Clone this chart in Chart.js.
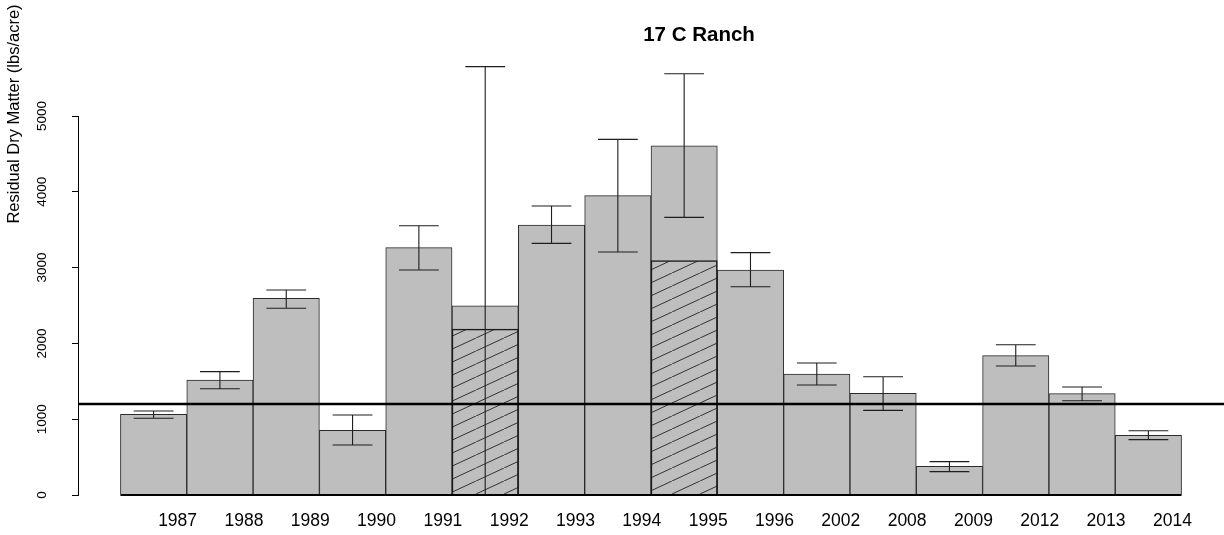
<!DOCTYPE html>
<html>
<head>
<meta charset="utf-8">
<script src="https://cdn.jsdelivr.net/npm/chart.js@4.4.1/dist/chart.umd.min.js"></script>
<style>
  body { margin: 0; background: #fff; }
  #wrap { width: 1224px; height: 535px; position: relative; }
</style>
</head>
<body>
<div id="wrap"><canvas id="rdm"></canvas></div>
<script>
const years = ['1987', '1988', '1989', '1990', '1991', '1992', '1993', '1994',
               '1995', '1996', '2002', '2008', '2009', '2012', '2013', '2014'];
const rdmMean = [1065, 1517, 2595, 853, 3263, 2497, 3562, 3949,
                 4608, 2968, 1596, 1341, 379, 1838, 1337, 788];
const rdmLow  = [1012, 1402, 2463, 660, 2968, 0, 3320, 3206,
                 3663, 2748, 1451, 1117, 308, 1702, 1244, 730];
const rdmHigh = [1108, 1627, 2704, 1055, 3553, 5651, 3813, 4692,
                 5558, 3197, 1741, 1561, 440, 1983, 1425, 848];
// hatched part of the bar (only some years)
const hatched = [null, null, null, null, null, 2190, null, null,
                 3091, null, null, null, null, null, null, null];
const refLevel = 1200;
const yTicks = [0, 1000, 2000, 3000, 4000, 5000];

Chart.defaults.font.family = "'Liberation Sans', Arial, sans-serif";
Chart.defaults.color = '#000';

function hatchPattern() {
  const c = document.createElement('canvas');
  c.width = 28; c.height = 13;
  const g = c.getContext('2d');
  g.strokeStyle = '#1a1a1a';
  g.lineWidth = 0.85;
  g.beginPath();
  [-28, 0, 28].forEach(dx => { g.moveTo(dx, 13); g.lineTo(dx + 28, 0); });
  g.stroke();
  return g.createPattern(c, 'repeat');
}

// error bars, reference line, base line and titles
const extras = {
  id: 'extras',
  afterDatasetsDraw(chart) {
    const {ctx, chartArea, scales: {x, y}} = chart;
    const barW = x.getPixelForValue(1) - x.getPixelForValue(0);
    ctx.save();
    ctx.strokeStyle = '#1e1e1e';
    ctx.lineWidth = 1.1;
    rdmMean.forEach((v, i) => {
      const px = x.getPixelForValue(i);
      const lo = y.getPixelForValue(rdmLow[i]);
      const hi = y.getPixelForValue(rdmHigh[i]);
      const cap = barW * 0.3;
      ctx.beginPath();
      ctx.moveTo(px, lo); ctx.lineTo(px, hi);
      ctx.moveTo(px - cap, hi); ctx.lineTo(px + cap, hi);
      if (rdmLow[i] > 0) { ctx.moveTo(px - cap, lo); ctx.lineTo(px + cap, lo); }
      ctx.stroke();
    });
    // base line under the bars
    ctx.strokeStyle = '#000';
    ctx.lineWidth = 2;
    const y0 = y.getPixelForValue(0);
    ctx.beginPath();
    ctx.moveTo(x.getPixelForValue(-0.5), y0);
    ctx.lineTo(x.getPixelForValue(rdmMean.length - 0.5), y0);
    ctx.stroke();
    // reference line
    const yr = y.getPixelForValue(refLevel);
    ctx.lineWidth = 2.4;
    ctx.beginPath();
    ctx.moveTo(chartArea.left, yr);
    ctx.lineTo(chartArea.right, yr);
    ctx.stroke();
    // titles
    ctx.fillStyle = '#000';
    ctx.textAlign = 'center';
    ctx.textBaseline = 'middle';
    ctx.font = "bold 20.5px 'Liberation Sans', Arial, sans-serif";
    ctx.fillText('17 C Ranch', 699, 35);
    ctx.translate(14, 114);
    ctx.rotate(-Math.PI / 2);
    ctx.font = "16.5px 'Liberation Sans', Arial, sans-serif";
    ctx.fillText('Residual Dry Matter (lbs/acre)', 0, 0);
    ctx.restore();
  }
};

const pts = arr => arr.map((v, i) => ({x: i, y: v}));

new Chart(document.getElementById('rdm'), {
  type: 'bar',
  data: {
    datasets: [
      {
        data: pts(hatched),
        backgroundColor: hatchPattern(),
        borderColor: '#1a1a1a',
        borderWidth: 0.8,
        grouped: false,
        order: 0,
        categoryPercentage: 1,
        barPercentage: 1
      },
      {
        data: pts(rdmMean),
        backgroundColor: '#bebebe',
        borderColor: '#2a2a2a',
        borderWidth: 1,
        grouped: false,
        order: 1,
        categoryPercentage: 1,
        barPercentage: 1
      }
    ]
  },
  options: {
    responsive: true,
    maintainAspectRatio: false,
    animation: false,
    layout: { padding: { top: 116, right: 0, left: 0, bottom: 0 } },
    plugins: { legend: { display: false }, tooltip: { enabled: false }, title: { display: false } },
    scales: {
      x: {
        type: 'linear',
        offset: false,
        min: -1.14,
        max: 16.14,
        grid: { display: false, offset: false },
        border: { display: false },
        afterBuildTicks: axis => { axis.ticks = years.map((_, i) => ({ value: i })); },
        afterFit: axis => { axis.height = 40; },
        ticks: {
          autoSkip: false,
          maxRotation: 0,
          labelOffset: 24,
          padding: 8,
          font: { size: 17.5 },
          callback: v => years[v]
        }
      },
      y: {
        min: 0,
        max: 5000,
        afterBuildTicks: axis => { axis.ticks = yTicks.map(v => ({ value: v })); },
        afterFit: axis => { axis.width = 78; },
        grid: { drawOnChartArea: false, drawTicks: true, tickLength: 6, color: '#000' },
        border: { display: true, color: '#000', width: 1 },
        ticks: {
          minRotation: 90,
          maxRotation: 90,
          crossAlign: 'center',
          padding: 15,
          font: { size: 13.5 },
          callback: v => String(v)
        }
      }
    }
  },
  plugins: [extras]
});
</script>
</body>
</html>
